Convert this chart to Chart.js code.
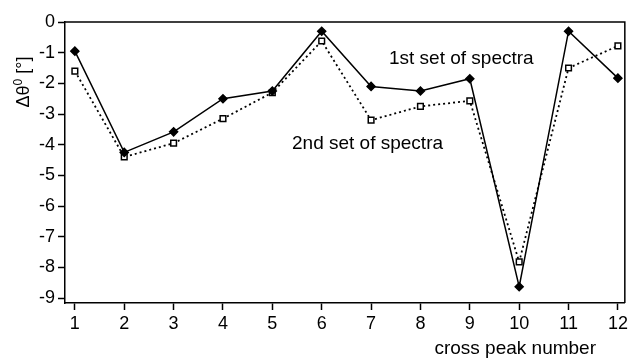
<!DOCTYPE html>
<html>
<head>
<meta charset="utf-8">
<script src="https://cdn.jsdelivr.net/npm/chart.js@4/dist/chart.umd.min.js"></script>
<style>
  html, body { margin: 0; padding: 0; background: #fff; }
  #wrap { width: 631px; height: 358px; }
</style>
</head>
<body>
<div id="wrap"><canvas id="chart" width="631" height="358"></canvas></div>
<script>
// cross peak numbers and the two sets of measured shifts
const peaks = [1, 2, 3, 4, 5, 6, 7, 8, 9, 10, 11, 12];
const firstSet = [-0.95, -4.25, -3.58, -2.5, -2.25, -0.3, -2.1, -2.25, -1.85, -8.63, -0.3, -1.83];
const secondSet = [-1.6, -4.4, -3.95, -3.15, -2.3, -0.62, -3.2, -2.75, -2.57, -7.82, -1.5, -0.78];
const yTicks = [0, -1, -2, -3, -4, -5, -6, -7, -8, -9];

const FONT = '"Liberation Sans", Arial, sans-serif';

const toPoints = (vals) => peaks.map((p, i) => ({ x: p, y: vals[i] }));

// frame, annotations and axis titles
const decorations = {
  id: 'decorations',
  afterDraw(chart) {
    const { ctx, chartArea: a } = chart;
    ctx.save();
    ctx.strokeStyle = '#000';
    ctx.lineWidth = 1.5;
    ctx.beginPath();
    ctx.moveTo(a.left, a.top);
    ctx.lineTo(a.right, a.top);
    ctx.lineTo(a.right, a.bottom);
    ctx.stroke();

    ctx.fillStyle = '#000';
    ctx.font = '19px ' + FONT;
    ctx.textBaseline = 'middle';
    ctx.textAlign = 'left';
    ctx.fillText('1st set of spectra', 389, 59);
    ctx.fillText('2nd set of spectra', 292, 144);

    ctx.textAlign = 'right';
    ctx.fillText('cross peak number', 596, 349);

    // y title: Δθ⁰ [°]
    ctx.translate(24, 82);
    ctx.rotate(-Math.PI / 2);
    const big = '18px ' + FONT, small = '12px ' + FONT;
    ctx.font = big;
    const w1 = ctx.measureText('Δθ').width;
    const w3 = ctx.measureText(' [°]').width;
    ctx.font = small;
    const w2 = ctx.measureText('0').width;
    let x = -(w1 + w2 + w3) / 2;
    ctx.textAlign = 'left';
    ctx.font = big;
    ctx.fillText('Δθ', x, 0);
    x += w1;
    ctx.font = small;
    ctx.fillText('0', x, -5);
    x += w2;
    ctx.font = big;
    ctx.fillText(' [°]', x, 0);
    ctx.restore();
  }
};

new Chart(document.getElementById('chart').getContext('2d'), {
  type: 'line',
  data: {
    datasets: [
      {
        label: '1st set of spectra',
        data: toPoints(firstSet),
        borderColor: '#000',
        borderWidth: 1.5,
        pointStyle: 'rectRot',
        pointRadius: 4,
        pointBackgroundColor: '#000',
        pointBorderColor: '#000',
        tension: 0
      },
      {
        label: '2nd set of spectra',
        data: toPoints(secondSet),
        borderColor: '#000',
        borderWidth: 1.8,
        borderDash: [2, 3],
        pointStyle: 'rect',
        pointRadius: 4,
        pointBorderWidth: 1.5,
        pointBackgroundColor: '#fff',
        pointBorderColor: '#000',
        tension: 0
      }
    ]
  },
  options: {
    responsive: false,
    animation: false,
    layout: { padding: { top: 22, right: 6, left: 0, bottom: 0 } },
    plugins: {
      legend: { display: false },
      tooltip: { enabled: false }
    },
    scales: {
      x: {
        type: 'linear',
        min: 0.8,
        max: 12.14,
        afterFit: (scale) => { scale.height = 55; },
        ticks: {
          stepSize: 1,
          includeBounds: false,
          color: '#000',
          font: { family: FONT, size: 18 },
          padding: 3
        },
        grid: { drawOnChartArea: false, drawTicks: true, tickLength: 7, color: '#000', tickWidth: 1.5 },
        border: { display: true, color: '#000', width: 1.5 }
      },
      y: {
        min: -9.16,
        max: 0,
        afterFit: (scale) => { scale.width = 65; },
        afterBuildTicks: (scale) => { scale.ticks = yTicks.map(v => ({ value: v })); },
        ticks: {
          color: '#000',
          font: { family: FONT, size: 18 },
          padding: 3
        },
        grid: { drawOnChartArea: false, drawTicks: true, tickLength: 7, color: '#000', tickWidth: 1.5 },
        border: { display: true, color: '#000', width: 1.5 }
      }
    }
  },
  plugins: [decorations]
});
</script>
</body>
</html>
